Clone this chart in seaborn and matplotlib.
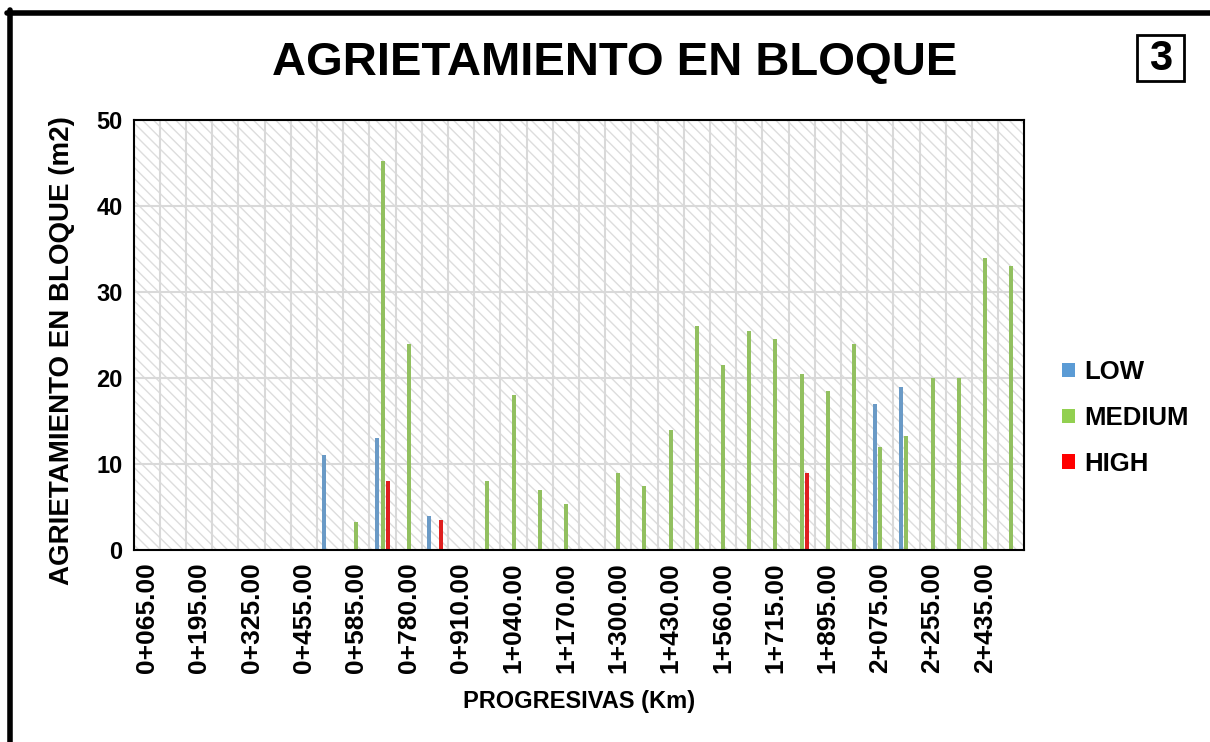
import numpy as np
import pandas as pd
import matplotlib
matplotlib.use("Agg")
import matplotlib.pyplot as plt
from matplotlib.patches import Rectangle, Patch
from matplotlib.lines import Line2D
import seaborn as sns

# Datos (m2) por progresiva
progresivas = ['0+065.00', '0+130.00', '0+195.00', '0+260.00', '0+325.00', '0+390.00',
               '0+455.00', '0+520.00', '0+585.00', '0+680.00', '0+780.00', '0+845.00',
               '0+910.00', '0+975.00', '1+040.00', '1+105.00', '1+170.00', '1+235.00',
               '1+300.00', '1+365.00', '1+430.00', '1+495.00', '1+560.00', '1+640.00',
               '1+715.00', '1+805.00', '1+895.00', '1+985.00', '2+075.00', '2+165.00',
               '2+255.00', '2+345.00', '2+435.00', '2+525.00']
low = [0, 0, 0, 0, 0, 0, 0, 11.1, 0.1, 13, 0, 4, 0, 0, 0, 0, 0,
       0, 0, 0, 0, 0, 0, 0, 0, 0, 0, 0, 17, 19, 0, 0, 0, 0]
medium = [0, 0, 0, 0, 0, 0, 0, 0, 3.3, 45.2, 24, 0, 0, 8, 18, 7, 5.4,
          0, 9, 7.5, 14, 26, 21.5, 25.5, 24.5, 20.5, 18.5, 24, 12, 13.3, 20, 20, 34, 33]
high = [0, 0, 0, 0, 0, 0, 0, 0, 0, 8, 0, 3.5, 0, 0, 0, 0, 0,
        0, 0, 0, 0, 0, 0, 0, 0, 9, 0, 0, 0, 0, 0, 0, 0, 0]
severidades = ['LOW', 'MEDIUM', 'HIGH']
colores = {'LOW': '#5B9BD5', 'MEDIUM': '#92D050', 'HIGH': '#FF0000'}

df = pd.DataFrame({'progresiva': progresivas * 3,
                   'severidad': ['LOW'] * len(low) + ['MEDIUM'] * len(medium) + ['HIGH'] * len(high),
                   'area': low + medium + high})

sns.set_style("white")
plt.rcParams['font.family'] = ['Liberation Sans', 'DejaVu Sans']
plt.rcParams['font.weight'] = 'bold'
plt.rcParams['text.color'] = 'black'
plt.rcParams['axes.labelcolor'] = 'black'
plt.rcParams['xtick.color'] = 'black'
plt.rcParams['ytick.color'] = 'black'
plt.rcParams['hatch.linewidth'] = 1.0

fig = plt.figure(figsize=(12.1, 7.42), dpi=100)
ax = fig.add_axes([133.7 / 1210, 1 - 550 / 742, 890.6 / 1210, 430 / 742])

# fondo rayado
ax.add_patch(Rectangle((0, 0), 1, 1, transform=ax.transAxes, facecolor='white',
                       edgecolor='#DDDDDD', linewidth=0, hatch='\\\\\\', zorder=0.1))

sns.barplot(data=df, x='progresiva', y='area', hue='severidad', hue_order=severidades,
            order=progresivas, palette=colores, width=0.65, gap=0.3, linewidth=0,
            legend=False, ax=ax, zorder=2)

ax.set_xlim(-0.5, len(progresivas) - 0.5)
ax.set_ylim(0, 50)
ax.set_yticks(range(0, 51, 10))
ax.set_xticks(range(0, len(progresivas), 2))
ax.set_xticklabels(progresivas[::2], rotation=90, fontsize=19, fontweight='bold')
ax.set_xticks(np.arange(0.5, len(progresivas) - 1, 1), minor=True)
ax.tick_params(axis='y', labelsize=17, length=0, pad=8)
ax.tick_params(axis='x', which='both', length=0, pad=9)
ax.set_axisbelow(True)
ax.grid(axis='y', color='#D9D9D9', linewidth=1.5)
ax.grid(axis='x', which='minor', color='#D9D9D9', linewidth=1.5)
ax.grid(axis='x', which='major', visible=False)
for s in ax.spines.values():
    s.set_color('black')
    s.set_linewidth(1.5)

ax.set_ylabel('AGRIETAMIENTO EN BLOQUE (m2)', fontsize=20, fontweight='bold', va='center')
ax.yaxis.set_label_coords(-0.0805, 0.463)
ax.set_xlabel('PROGRESIVAS (Km)', fontsize=17, fontweight='bold')
ax.xaxis.set_label_coords(0.5, -0.326)

fig.text(615 / 1210, 1 - 63 / 742, 'AGRIETAMIENTO EN BLOQUE', fontsize=34,
         fontweight='bold', ha='center', va='center')
fig.add_artist(Rectangle((1137 / 1210, 1 - 81 / 742), 47 / 1210, 46 / 742,
                         transform=fig.transFigure, facecolor='white', edgecolor='black', linewidth=2))
fig.text(1160.5 / 1210, 1 - 59 / 742, '3', fontsize=30, fontweight='bold', ha='center', va='center')

handles = [Patch(facecolor=colores[s], edgecolor='none') for s in severidades]
fig.legend(handles, severidades, loc='center left', bbox_to_anchor=(1062 / 1210, 1 - 418 / 742),
           frameon=False, prop={'size': 18.5, 'weight': 'bold'}, handlelength=0.5,
           handleheight=0.5, handletextpad=0.35, labelspacing=0.85, borderpad=0,
           borderaxespad=0)

# marco exterior
fig.add_artist(Line2D([9.5 / 1210, 9.5 / 1210], [0, 1 - 10 / 742], color='black', linewidth=4))
fig.add_artist(Line2D([7 / 1210, 1], [1 - 12.5 / 742, 1 - 12.5 / 742], color='black', linewidth=4))

fig.savefig('out.png', dpi=100)
